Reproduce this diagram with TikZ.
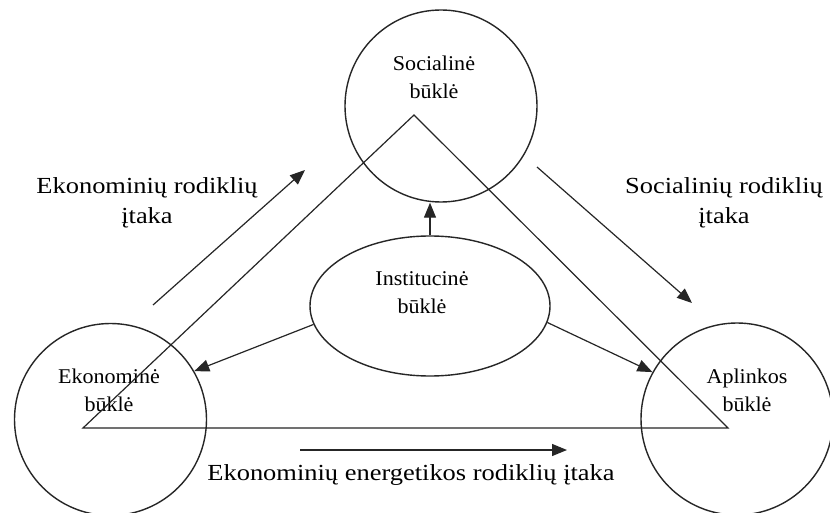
\documentclass[tikz,border=0pt]{standalone}
\usepackage{fontspec}
\setmainfont{Liberation Serif}
\newfontfamily\widefont[FakeStretch=1.15]{Liberation Serif}
\newfontfamily\smallfont[FakeStretch=1.05]{Liberation Serif}
\usetikzlibrary{shapes.geometric,arrows.meta}
\begin{document}
\begin{tikzpicture}[x=1pt,y=-1pt,
  edge/.style={line width=1.2pt, draw=black!85},
  state/.style={draw=black!85, circle, line width=1.4pt, minimum size=192pt, inner sep=0pt},
  inst/.style={draw=black!85, ellipse, line width=1.4pt, minimum width=240pt, minimum height=140pt, inner sep=0pt},
  arr/.style={edge, -{Triangle[length=15pt,width=12pt]}},
  smalltext/.style={font=\smallfont\fontsize{21}{28}\selectfont, align=center, inner sep=0pt},
  bigtext/.style={font=\widefont\fontsize{23}{30}\selectfont, align=center, inner sep=0pt}]
\useasboundingbox (0,0) rectangle (830,513);
\clip (0,0) rectangle (830,513);
\fill[white] (0,0) rectangle (830,513);
% states
\node[state] (soc) at (441,106) {};
\node[state] (eko) at (110.5,419.5) {};
\node[state] (apl) at (737,419) {};
\node[inst] (inst) at (430,306) {};
% labels inside
\node[smalltext] (socl) at (434,77) {Socialinė\\būklė};
\node[smalltext] (ekol) at (109,390) {Ekonominė\\būklė};
\node[smalltext] (apll) at (747,390) {Aplinkos\\būklė};
\node[smalltext] (instl) at (422,293) {Institucinė\\būklė};
% triangle
\coordinate (ta) at (414,115);
\coordinate (tl) at (83,428);
\coordinate (tr) at (728,428);
\draw[edge, line join=miter] (ta) -- (tl) -- (tr) -- cycle;
% institutional arrows
\draw[arr] (inst.north) -- (inst.north |- soc.south);
\draw[arr] (inst.189) -- (eko.30);
\draw[arr] (inst.-8) -- (apl.151);
% influence arrows
\coordinate (e1) at (153,305);
\coordinate (e2) at (305,170);
\coordinate (s1) at (537,167);
\coordinate (s2) at (692,303);
\coordinate (b1) at (300,450);
\coordinate (b2) at (567,450);
\draw[arr] (e1) -- (e2);
\draw[arr] (s1) -- (s2);
\draw[arr] (b1) -- (b2);
% influence labels
\node[bigtext] (el) at (147,203) {Ekonominių rodiklių\\įtaka};
\node[bigtext] (sl) at (724,203) {Socialinių rodiklių\\įtaka};
\node[bigtext] (bl) at (411,475) {Ekonominių energetikos rodiklių įtaka};
\end{tikzpicture}
\end{document}
